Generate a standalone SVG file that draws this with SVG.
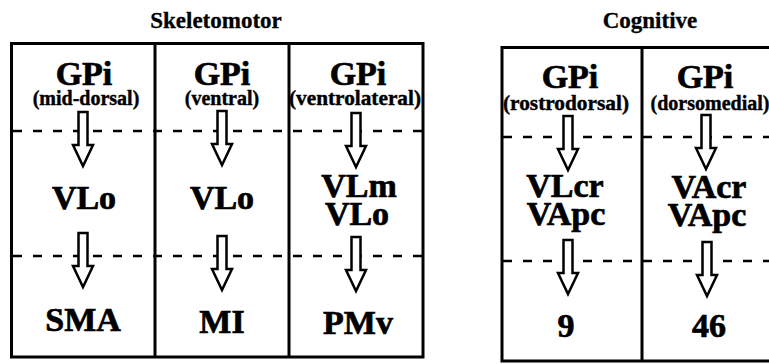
<svg xmlns="http://www.w3.org/2000/svg" width="769" height="364" viewBox="0 0 769 364">
<style>
text{font-family:"Liberation Serif","Times New Roman",serif;font-weight:bold;fill:#000;text-anchor:middle}
.hd{font-size:23px;stroke:#000;stroke-width:0.3}
.big{font-size:34px;stroke:#000;stroke-width:0.7}
.sub{font-size:20px;stroke:#000;stroke-width:0.4}
.box{fill:none;stroke:#000;stroke-width:3}
.div{stroke:#000;stroke-width:3}
.dash{stroke:#000;stroke-width:2.5;stroke-dasharray:9 11;fill:none}
.arr{fill:#fff;stroke:#000;stroke-width:2.5;stroke-linejoin:miter}
</style>
<defs>
<path id="arrow" d="M-4.5,0 H4.5 V33 H10 L0,54 L-10,33 H-4.5 Z"/>
</defs>
<rect width="769" height="364" fill="#fff"/>

<g id="headers">
<text class="hd" x="216" y="28">Skeletomotor</text>
<text class="hd" x="650" y="28">Cognitive</text>
</g>

<g id="frames">
<rect class="box" x="11.5" y="43.5" width="411.5" height="313.5"/>
<line class="div" x1="155" y1="43" x2="155" y2="357"/>
<line class="div" x1="289" y1="43" x2="289" y2="357"/>
<rect class="box" x="502" y="47.5" width="275" height="313.5"/>
<line class="div" x1="642" y1="47" x2="642" y2="361"/>
</g>

<g id="levels">
<path class="dash" d="M13,131 H422"/>
<path class="dash" d="M13,256 H422"/>
<path class="dash" d="M503,137 H769"/>
<path class="dash" d="M503,261 H769"/>
</g>

<g id="node-sma">
<text class="big" x="84" y="85">GPi</text>
<text class="sub" x="86" y="105">(mid-dorsal)</text>
<text class="big" x="84" y="209">VLo</text>
<text class="big" x="83" y="331">SMA</text>
</g>
<g id="node-mi">
<text class="big" x="222" y="85">GPi</text>
<text class="sub" x="222" y="105">(ventral)</text>
<text class="big" x="222" y="209">VLo</text>
<text class="big" x="222" y="333">MI</text>
</g>
<g id="node-pmv">
<text class="big" x="358" y="85">GPi</text>
<text class="sub" x="355" y="105" textLength="132" lengthAdjust="spacingAndGlyphs">(ventrolateral)</text>
<text class="big"><tspan x="359" y="197">VLm</tspan><tspan x="357" y="225">VLo</tspan></text>
<text class="big" x="358" y="334">PMv</text>
</g>
<g id="node-9">
<text class="big" x="570" y="88">GPi</text>
<text class="sub" x="566" y="110" textLength="126" lengthAdjust="spacingAndGlyphs">(rostrodorsal)</text>
<text class="big"><tspan x="565" y="197">VLcr</tspan><tspan x="566" y="225">VApc</tspan></text>
<text class="big" x="566" y="337">9</text>
</g>
<g id="node-46">
<text class="big" x="705" y="88">GPi</text>
<text class="sub" x="710" y="110">(dorsomedial)</text>
<text class="big"><tspan x="709" y="198">VAcr</tspan><tspan x="707" y="226">VApc</tspan></text>
<text class="big" x="709" y="337">46</text>
</g>

<g id="connectors">
<use href="#arrow" class="arr" x="83" y="112"/>
<use href="#arrow" class="arr" x="222" y="111"/>
<use href="#arrow" class="arr" x="356" y="113"/>
<use href="#arrow" class="arr" x="83" y="233"/>
<use href="#arrow" class="arr" x="222" y="236"/>
<use href="#arrow" class="arr" x="356" y="237"/>
<use href="#arrow" class="arr" x="568" y="116"/>
<use href="#arrow" class="arr" x="706" y="115"/>
<use href="#arrow" class="arr" x="568" y="240"/>
<use href="#arrow" class="arr" x="707" y="242"/>
</g>
</svg>
